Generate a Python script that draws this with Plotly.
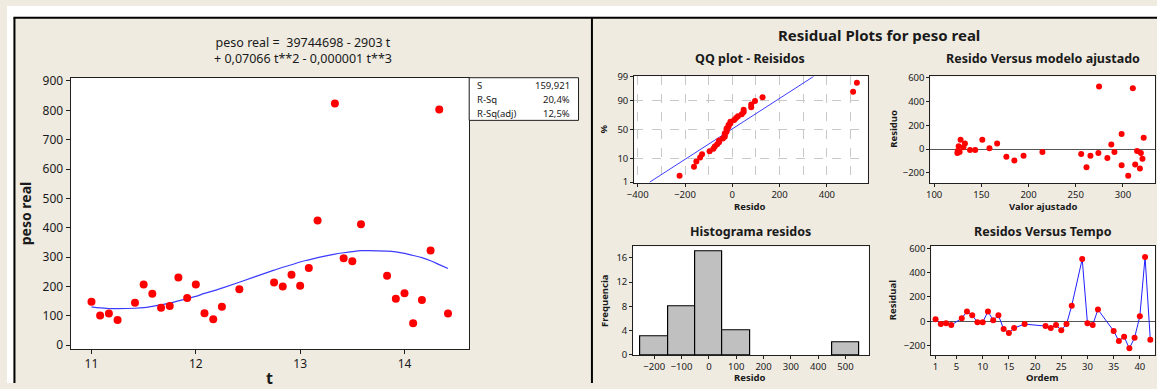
import plotly.graph_objects as go
from statistics import NormalDist

W, H = 1157, 389

# ---------------- data ----------------
ordem = [1, 2, 3, 4, 6, 7, 8, 9, 10, 11, 12, 13, 14, 15, 16, 18, 22, 23, 24, 25,
         26, 27, 29, 30, 31, 32, 35, 36, 37, 38, 39, 40, 41, 42]
t = [11.0, 11.083, 11.167, 11.25, 11.417, 11.5, 11.583, 11.667, 11.75, 11.833,
     11.917, 12.0, 12.083, 12.167, 12.25, 12.417, 12.75, 12.833, 12.917, 13.0,
     13.083, 13.167, 13.333, 13.417, 13.5, 13.583, 13.833, 13.917, 14.0, 14.083,
     14.167, 14.25, 14.333, 14.417]
peso_real = [148, 101, 108, 86, 145, 207, 175, 128, 134, 231, 161, 207, 109, 89, 131,
             191, 214, 200, 240, 203, 263, 425, 823, 296, 286, 412, 237, 158, 177, 75,
             154, 323, 803, 108]
ajustado = [131, 127, 125, 124.6, 126, 128, 132.6, 138, 143.5, 151, 158.6, 166.7,
            176.5, 185, 194.7, 214.7, 255.8, 265.6, 274, 283.5, 291, 298.6, 310.5,
            315, 319, 322, 320.7, 318, 313, 305.6, 298.6, 287.7, 274.7, 261.4]
residuo = [16, -24, -16, -32, 24, 80, 48, -8, -8, 80, 8, 48, -64, -96, -56, -24, -40,
           -56, -32, -74, -24, 128, 511, -16, -32, 96, -80, -162, -128, -223, -136,
           40, 527, -152]
qq_line_resid = [-349, 344]
qq_line_pct = [1, 99]
qq_pct_ticks = [1, 10, 50, 90, 99]
stats_labels = ["S", "R-Sq", "R-Sq(adj)"]
stats_values = ["159,921", "20,4%", "12,5%"]

# ---------------- helpers ----------------
FONT = "Tahoma, 'Noto Sans', sans-serif"
TXT = "#1a1a1a"
BG = "#EFEBE1"
RED = "#FF0000"


def px(x):
    return x / W


def py(y):
    return 1 - y / H


def dom_x(a, b):
    return [px(a), px(b)]


def dom_y(top, bottom):
    return [py(bottom), py(top)]


nd = NormalDist()
n = len(residuo)
qq_sorted = sorted(residuo)
qq_z = [nd.inv_cdf((i + 1 - 0.3) / (n + 0.4)) for i in range(n)]
qq_line_z = [nd.inv_cdf(p / 100) for p in qq_line_pct]
qq_tick_z = [nd.inv_cdf(p / 100) for p in qq_pct_ticks]

fig = go.Figure()

# left: fitted line plot
fig.add_trace(go.Scatter(x=t, y=ajustado, mode="lines", line=dict(color="#3C3CFF", width=1.2, shape="spline"),
                         xaxis="x", yaxis="y", showlegend=False))
fig.add_trace(go.Scatter(x=t, y=peso_real, mode="markers", marker=dict(color=RED, size=8),
                         xaxis="x", yaxis="y", showlegend=False))

# QQ plot
fig.add_trace(go.Scatter(x=qq_line_resid, y=qq_line_z, mode="lines", line=dict(color="#3C3CFF", width=1),
                         xaxis="x2", yaxis="y2", showlegend=False))
fig.add_trace(go.Scatter(x=qq_sorted, y=qq_z, mode="markers", marker=dict(color=RED, size=6),
                         xaxis="x2", yaxis="y2", showlegend=False))

# residual vs fitted
fig.add_trace(go.Scatter(x=ajustado, y=residuo, mode="markers", marker=dict(color=RED, size=6),
                         xaxis="x3", yaxis="y3", showlegend=False))

# histogram
fig.add_trace(go.Histogram(x=residuo, xbins=dict(start=-250, end=550, size=100),
                           marker=dict(color="#C0C0C0", line=dict(color="black", width=1.2)),
                           xaxis="x4", yaxis="y4", showlegend=False))

# residual vs order
fig.add_trace(go.Scatter(x=ordem, y=residuo, mode="lines+markers", line=dict(color="#2020FF", width=1),
                         marker=dict(color=RED, size=6), xaxis="x5", yaxis="y5", showlegend=False))


def axis(domain, rng, size, ticklen=4, **kw):
    d = dict(domain=domain, range=rng, showline=True, mirror=True, linecolor="#202020", linewidth=1,
             ticks="outside", ticklen=ticklen, tickcolor="#202020", showgrid=False, zeroline=False,
             tickfont=dict(family=FONT, size=size, color=TXT), fixedrange=True)
    d.update(kw)
    return d


grid_kw = dict(showgrid=True, gridcolor="#C8C8C8", griddash="dash", gridwidth=1)
RS = 9.5  # right-panel tick font size

layout = dict(
    width=W, height=H, margin=dict(l=0, r=0, t=0, b=0),
    paper_bgcolor=BG, plot_bgcolor="white", showlegend=False,
    font=dict(family=FONT, color=TXT),
    bargap=0,
    xaxis=axis(dom_x(64, 465), [10.8, 14.62], 12, tickvals=[11, 12, 13, 14], anchor="y"),
    yaxis=axis(dom_y(74, 354), [-13, 911], 12, tick0=0, dtick=100, anchor="x"),
    xaxis2=axis(dom_x(631, 866), [-415, 573], RS, 3, tick0=-400, dtick=200, anchor="y2",
                minor=dict(dtick=100, tick0=0, **grid_kw), **grid_kw),
    yaxis2=axis(dom_y(72.5, 182.7), [-2.37, 2.335], RS, 3, tickvals=qq_tick_z,
                ticktext=[str(p) for p in qq_pct_ticks], anchor="x2", **grid_kw),
    xaxis3=axis(dom_x(929, 1155), [96, 334], RS, 3, tick0=100, dtick=50, anchor="y3"),
    yaxis3=axis(dom_y(72.7, 182.7), [-285, 611], RS, 3, tick0=0, dtick=200, anchor="x3",
                zeroline=True, zerolinecolor="#555555", zerolinewidth=1.3),
    xaxis4=axis(dom_x(630, 867), [-277, 585], RS, 3, tick0=-200, dtick=100, anchor="y4"),
    yaxis4=axis(dom_y(248, 360), [0, 17.9], RS, 3, tick0=0, dtick=4, anchor="x4"),
    xaxis5=axis(dom_x(930, 1155), [0.2, 42.9], RS, 3, tickvals=[1, 5, 10, 15, 20, 25, 30, 35, 40], anchor="y5"),
    yaxis5=axis(dom_y(247.3, 360), [-277, 621], RS, 3, tick0=0, dtick=200, anchor="x5",
                zeroline=True, zerolinecolor="#555555", zerolinewidth=1.3),
)

shapes = [
    dict(type="rect", xref="paper", yref="paper", x0=0, x1=1, y0=py(11), y1=1,
         fillcolor="white", line=dict(width=0), layer="below"),
    dict(type="rect", xref="paper", yref="paper", x0=0, x1=px(6), y0=0, y1=1,
         fillcolor="white", line=dict(width=0), layer="below"),
    dict(type="line", xref="paper", yref="paper", x0=px(6.5), x1=1, y0=py(12), y1=py(12),
         line=dict(color="black", width=2)),
    dict(type="line", xref="paper", yref="paper", x0=px(7.5), x1=px(7.5), y0=0, y1=py(12),
         line=dict(color="black", width=2)),
    dict(type="line", xref="paper", yref="paper", x0=px(588.5), x1=px(588.5), y0=0, y1=py(12),
         line=dict(color="black", width=2)),
    dict(type="rect", xref="paper", yref="paper", x0=px(465), x1=px(575), y0=py(118), y1=py(74),
         fillcolor="white", line=dict(color="#202020", width=1), layer="above"),
]
layout["shapes"] = shapes


def ann(text, x, y, size, bold=False, xanchor="center", yanchor="middle", angle=0):
    return dict(text=f"<b>{text}</b>" if bold else text, x=px(x), y=py(y), xref="paper", yref="paper",
                showarrow=False, xanchor=xanchor, yanchor=yanchor, textangle=angle,
                font=dict(family=FONT, size=size, color=TXT))


annotations = [
    ann("peso real =\u00a0 39744698 - 2903 t<br>+ 0,07066 t**2 - 0,000001 t**3", 298, 45.5, 12.5),
    ann("peso real", 19, 214, 14, bold=True, angle=-90),
    ann("t", 264.5, 384, 16, bold=True),
    ann("Residual Plots for peso real", 877.5, 30, 15, bold=True),
    ann("QQ plot - Reisidos", 748, 54.5, 12.5, bold=True),
    ann("Resido Versus modelo ajustado", 1042, 54.5, 12.5, bold=True),
    ann("Histograma residos", 748, 232.5, 12.5, bold=True),
    ann("Residos Versus Tempo", 1042, 232.5, 12.5, bold=True),
    ann("Resido", 748, 207, 9.5, bold=True),
    ann("Valor ajustado", 1042, 207, 9.5, bold=True),
    ann("%", 600, 127, 9.5, bold=True, angle=-90),
    ann("Residuo", 891, 127, 9.5, bold=True, angle=-90),
    ann("Frequencia", 601, 304, 9.5, bold=True, angle=-90),
    ann("Residual", 891, 304, 9.5, bold=True, angle=-90),
    ann("Resido", 748, 383.5, 9.5, bold=True),
    ann("Ordem", 1042, 383.5, 9.5, bold=True),
]
row_y = [81.7, 96.5, 110.7]
for lab, val, yy in zip(stats_labels, stats_values, row_y):
    annotations.append(ann(lab, 471, yy, 9.5, xanchor="left"))
    annotations.append(ann(val, 568, yy, 9.5, xanchor="right"))
layout["annotations"] = annotations

fig.update_layout(**layout)
fig.write_html("out.html")
